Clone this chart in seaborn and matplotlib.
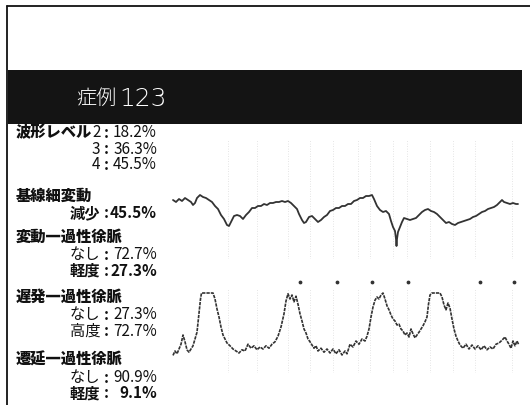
import matplotlib
matplotlib.use("Agg")
import matplotlib.pyplot as plt
from matplotlib.lines import Line2D
from matplotlib.patches import Rectangle
import pandas as pd
import seaborn as sns

sns.set_style("white")
plt.rcParams["font.family"] = ["Noto Sans CJK JP", "DejaVu Sans"]

W, H = 530, 406

# ---- fetal heart rate trace (time in minutes, bpm) ----
fhr_time = [0.3, 0.6, 0.9, 1.2, 1.5, 1.8, 2.1, 2.3, 2.5, 2.7, 3.0, 3.3, 3.6, 3.9,
            4.2, 4.5, 4.8, 5.1, 5.4, 5.7, 5.9, 6.1, 6.4, 6.7, 7.0, 7.3, 7.6, 7.9,
            8.2, 8.5, 8.8, 9.1, 9.4, 9.7, 10.0, 10.3, 10.6, 10.9, 11.2, 11.5, 11.8,
            12.1, 12.4, 12.7, 12.9, 13.2, 13.4, 13.6, 13.9, 14.2, 14.5, 14.8, 15.1,
            15.4, 15.7, 16.0, 16.3, 16.6, 16.9, 17.2, 17.5, 17.8, 18.1, 18.4, 18.7,
            19.0, 19.3, 19.6, 19.9, 20.2, 20.4, 20.7, 21.0, 21.3, 21.6, 21.9, 22.1,
            22.3, 22.5, 22.6, 22.65, 22.7, 22.8, 23.0, 23.2, 23.4, 23.7, 24.0, 24.3,
            24.6, 24.9, 25.2, 25.5, 25.8, 26.1, 26.4, 26.7, 27.0, 27.3, 27.6, 27.9,
            28.2, 28.5, 28.8, 29.1, 29.4, 29.7, 30.0, 30.3, 30.6, 30.9, 31.2, 31.5,
            31.8, 32.1, 32.4, 32.7, 33.0, 33.2, 33.4, 33.7, 34.0, 34.3, 34.6, 34.8]
fhr_bpm = [139, 137, 140, 138, 141, 139, 137, 134, 136, 141, 144, 142, 141, 139,
           137, 133, 130, 124, 120, 114, 113, 117, 123, 124, 123, 120, 124, 127,
           131, 131, 133, 133, 135, 134, 136, 136, 137, 137, 138, 137, 138,
           136, 133, 130, 125, 119, 116, 117, 122, 123, 120, 117, 119,
           122, 124, 128, 129, 131, 131, 133, 133, 135, 135, 138, 139,
           141, 141, 143, 143, 144, 140, 133, 129, 127, 128, 125, 118,
           112, 108, 100, 93, 100, 107, 112, 117, 121, 120, 119, 120,
           121, 124, 127, 129, 130, 128, 127, 125, 122, 119, 116, 117,
           115, 114, 116, 117, 118, 119, 120, 122, 123, 125, 127, 128,
           130, 131, 132, 134, 137, 139, 137, 136, 135, 136, 135, 135]

# ---- uterine contraction trace (time in minutes, mmHg) ----
uc_time = [0.3, 0.5, 0.7, 0.9, 1.1, 1.3, 1.5, 1.7, 1.9, 2.1, 2.3, 2.5, 2.7, 2.9,
           3.05, 3.15, 3.5, 3.9, 4.3, 4.5, 4.7, 4.9, 5.1, 5.3, 5.5, 5.7, 6.0, 6.3,
           6.6, 6.9, 7.2, 7.5, 7.8, 8.1, 8.4, 8.7, 9.0, 9.3, 9.6, 9.9, 10.2, 10.5,
           10.8, 11.1, 11.4, 11.6, 11.8, 12.0, 12.2, 12.4, 12.6, 12.8, 13.0, 13.2,
           13.4, 13.6, 13.8, 14.0, 14.2, 14.4, 14.6, 14.8, 15.1, 15.4, 15.7, 16.0,
           16.3, 16.6, 16.9, 17.2, 17.5, 17.7, 18.0, 18.3, 18.6, 18.9, 19.2, 19.5,
           19.7, 19.9, 20.1, 20.3, 20.5, 20.7, 20.9, 21.1, 21.3, 21.5, 21.7, 21.9,
           22.1, 22.3, 22.5, 22.7, 22.9, 23.1, 23.3, 23.5, 23.7, 23.9, 24.1, 24.3,
           24.5, 24.7, 24.9, 25.1, 25.3, 25.5, 25.7, 25.85, 26.0, 26.2, 26.6, 27.0,
           27.2, 27.4, 27.6, 27.8, 28.0, 28.2, 28.4, 28.6, 28.8, 29.0, 29.3, 29.6,
           29.9, 30.2, 30.5, 30.8, 31.1, 31.4, 31.7, 32.0, 32.3, 32.6, 32.9, 33.2,
           33.5, 33.7, 33.9, 34.1, 34.3, 34.5, 34.7, 34.85]
uc_mmhg = [22, 27.5, 24, 30, 36, 47.5, 39, 29, 26, 30, 34, 42.5, 51, 74,
           92.5, 100, 100, 100, 100, 92.5, 80, 70, 57.5, 47.5, 42.5, 37.5, 34, 30,
           27.5, 25, 29, 27.5, 36, 31, 34, 29, 32.5, 30, 34, 31, 36, 39,
           46, 57.5, 74, 90, 99, 92.5, 97.5, 89, 96, 86, 74, 65,
           55, 50, 42.5, 39, 35, 31, 34, 27.5, 31, 26, 30, 25,
           30, 24, 29, 22.5, 27.5, 24, 36, 32.5, 40, 36, 42.5, 40,
           46, 55, 70, 82.5, 91, 95, 92.5, 97.5, 100, 92.5, 84, 79,
           72.5, 67.5, 65, 60, 61, 55, 52.5, 47.5, 50, 45, 55, 49,
           44, 47.5, 51, 55, 59, 64, 70, 86, 97.5, 100, 100, 100,
           95, 85, 79, 87.5, 81, 67.5, 55, 46, 40, 35, 31, 36,
           30, 35, 30, 34, 29, 34, 29, 32.5, 30, 36, 37.5, 41,
           45, 40, 36, 31, 40, 34, 40, 36]

# event marks printed above the contraction channel
event_time = [13.0, 16.7, 20.2, 23.8, 31.0, 34.4]

# ---- summary table on the left ----
title_case = "症例"
title_number = "123"
sections = ["波形レベル", "基線細変動", "変動一過性徐脈", "遅発一過性徐脈", "遷延一過性徐脈"]
row_labels = ["2", "3", "4", "減少", "なし", "軽度", "なし", "高度", "なし", "軽度"]
row_values = ["18.2%", "36.3%", "45.5%", "45.5%", "72.7%", "27.3%", "27.3%", "72.7%", "90.9%", "9.1%"]
row_bold = [False, False, False, True, False, True, False, False, False, True]


def fx(x):
    return x / W


def fy(y):
    return 1 - y / H


fig = plt.figure(figsize=(W / 100, H / 100), dpi=100)
fig.patch.set_facecolor("white")

# page frame
fig.add_artist(Line2D([fx(6.5), fx(530)], [fy(6.5), fy(6.5)], color="#111111", lw=1.3))
fig.add_artist(Line2D([fx(6.5), fx(6.5)], [fy(6.5), fy(406)], color="#111111", lw=1.3))

# title band
fig.add_artist(Rectangle((fx(8), fy(125)), fx(522) - fx(8), (125 - 71) / H,
                         transform=fig.transFigure, facecolor="#141414", edgecolor="none"))
fig.text(fx(76), fy(98), title_case, color="white", fontsize=14.5, fontweight="light",
         ha="left", va="center")
fig.text(fx(119), fy(98.5), title_number, color="white", fontsize=18,
         family=["DejaVu Sans", "Noto Sans CJK JP"], fontweight="light",
         ha="left", va="center")

# section headings and rows
section_y = [132.5, 196.5, 237, 297, 360]
section_x = 16
for name, y in zip(sections, section_y):
    fig.text(fx(section_x), fy(y), name, fontsize=11, fontweight="black",
             ha="left", va="center", color="#111111")

row_y = [132.5, 149, 165, 213.5, 255, 271, 315, 331.5, 378, 393.5]
label_right = 100.5
colon_x = 106.5
value_right = 157
for lab, val, bold, y in zip(row_labels, row_values, row_bold, row_y):
    w = "bold" if bold else "normal"
    fig.text(fx(label_right), fy(y), lab, fontsize=11, fontweight=w,
             ha="right", va="center", color="#111111")
    fig.text(fx(colon_x), fy(y), ":", fontsize=11, fontweight="bold",
             ha="center", va="center", color="#111111")
    fig.text(fx(value_right), fy(y), val, fontsize=11, fontweight=w,
             ha="right", va="center", color="#111111")

# trace channels share the same time scale
x0, x1 = 170, 520
ax_fhr = fig.add_axes([fx(x0), fy(260), (x1 - x0) / W, (260 - 140) / H])
ax_uc = fig.add_axes([fx(x0), fy(374), (x1 - x0) / W, (374 - 290) / H])

fhr_df = pd.DataFrame({"time": fhr_time, "bpm": fhr_bpm})
uc_df = pd.DataFrame({"time": uc_time, "mmHg": uc_mmhg})

trace_color = "#333333"
sns.lineplot(data=fhr_df, x="time", y="bpm", ax=ax_fhr, color=trace_color, lw=1.3,
             estimator=None, sort=False)
sns.lineplot(data=uc_df, x="time", y="mmHg", ax=ax_uc, color=trace_color, lw=1.2,
             estimator=None, sort=False, linestyle=(0, (2, 0.6)))

ax_fhr.set_xlim(0, 35)
ax_fhr.set_ylim(80, 200)
ax_uc.set_xlim(0, 35)
ax_uc.set_ylim(0, 105)

# faint chart-paper rulings
for ax in (ax_fhr, ax_uc):
    for t in [5.8, 8.7, 11.8, 14.0, 16.3, 18.8, 20.0, 22.3, 23.7, 26.0, 28.3, 30.5, 34.2]:
        ax.axvline(t, color="#dcdcdc", lw=0.6, linestyle=(0, (1, 2)), zorder=0)
    ax.set_axis_off()

ax_uc.scatter(event_time, [114] * len(event_time), s=3, color="#333333", clip_on=False)

fig.savefig("out.png", dpi=100)
